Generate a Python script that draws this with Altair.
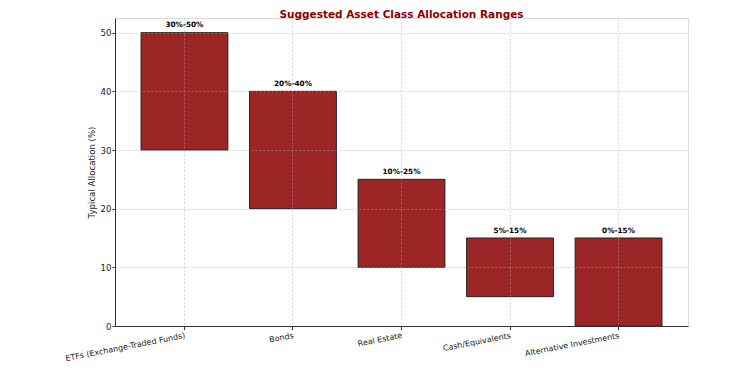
import altair as alt
import pandas as pd

categories = ["ETFs (Exchange-Traded Funds)", "Bonds", "Real Estate", "Cash/Equivalents", "Alternative Investments"]
low = [30, 20, 10, 5, 0]
high = [50, 40, 25, 15, 15]
labels = ["30%-50%", "20%-40%", "10%-25%", "5%-15%", "0%-15%"]

df = pd.DataFrame({"cat": categories, "low": low, "high": high, "label": labels})

font = "DejaVu Sans"
grid_color = "#a8a8a8"
grid_opacity = 0.5
axis_color = "#333333"

x = alt.X("cat:N", sort=categories, title=None,
          scale=alt.Scale(paddingInner=0.2, paddingOuter=0.24),
          axis=alt.Axis(labelAngle=-11, labelAlign="right", labelBaseline="top",
                        bandPosition=0.5, grid=True, gridDash=[2, 2], gridColor=grid_color,
                        gridOpacity=grid_opacity,
                        tickSize=3.5, tickColor=axis_color, domainColor=axis_color, labelFont=font,
                        labelFontSize=8, labelColor="#222", labelPadding=2, zindex=1))

bars = alt.Chart(df).mark_bar(color="#9C2626", stroke="#222", strokeWidth=1).encode(
    x=x,
    y=alt.Y("low:Q", title="Typical Allocation (%)",
            scale=alt.Scale(domain=[0, 52.5], nice=False, zero=False),
            axis=alt.Axis(values=[0, 10, 20, 30, 40, 50], grid=True, gridDash=[2, 2],
                          gridColor=grid_color, gridOpacity=grid_opacity,
                          tickSize=3, tickColor=axis_color, domainColor=axis_color,
                          labelFont=font, labelFontSize=8.6, labelColor="#222", labelPadding=1,
                          titleFont=font, titleFontSize=8.6, titleFontWeight="normal",
                          titleColor="#222", titlePadding=4, zindex=1)),
    y2="high:Q",
)

text = alt.Chart(df).mark_text(font=font, fontSize=7.3, fontWeight="bold", baseline="bottom",
                               dy=-3.5, color="black").encode(
    x=alt.X("cat:N", sort=categories),
    y=alt.Y("high:Q"),
    text="label:N",
)

chart = alt.layer(bars, text).properties(
    width=573, height=308,
    title=alt.TitleParams("Suggested Asset Class Allocation Ranges", font=font, fontSize=10.5,
                          fontWeight="bold", color="#8B0000", anchor="middle",
                          offset=3, dy=5),
    autosize=alt.AutoSizeParams(type="none"),
    padding={"left": 107, "top": 10, "right": 54, "bottom": 41},
).configure_view(stroke=None).configure(background="white")

chart.save("out.html", embed_options={"renderer": "svg", "actions": False})
